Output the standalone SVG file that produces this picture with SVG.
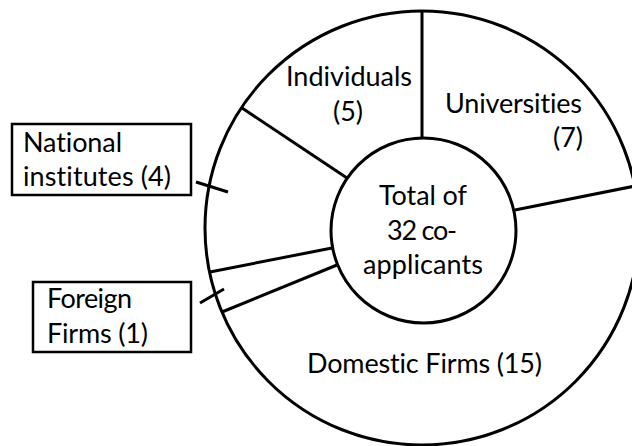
<svg xmlns="http://www.w3.org/2000/svg" width="632" height="446" viewBox="0 0 632 446">
<style>
.ln{stroke:#000;stroke-width:3;fill:none}
.box{stroke:#000;stroke-width:2.5;fill:#fff}
text{font-family:Lato,"Open Sans","Liberation Sans",sans-serif;font-size:27px;fill:#000;font-variant-ligatures:none}
.m{text-anchor:middle}
</style>
<rect width="632" height="446" fill="#fff"/>
<g id="ring">
<circle class="ln" cx="422" cy="228" r="217"/>
</g>
<g id="dividers">
<line class="ln" x1="422" y1="11" x2="422" y2="138"/>
<line class="ln" x1="515" y1="210" x2="640" y2="185"/>
<line class="ln" x1="242" y1="108" x2="347" y2="178"/>
<line class="ln" x1="210" y1="272" x2="332" y2="248"/>
<line class="ln" x1="222" y1="312" x2="337" y2="265"/>
</g>
<g id="center">
<circle class="ln" cx="423.5" cy="230.5" r="92.5" fill="#fff"/>
<text class="m" x="423" y="205" textLength="88">Total of</text>
<text class="m" x="422" y="240" textLength="70">32 co-</text>
<text class="m" x="423" y="274" textLength="120">applicants</text>
</g>
<g id="individuals">
<text class="m" x="349" y="86" textLength="126">Individuals</text>
<text class="m" x="348" y="121" textLength="30">(5)</text>
</g>
<g id="universities">
<text class="m" x="513.5" y="113" textLength="137">Universities</text>
<text x="583" y="147" text-anchor="end" textLength="30">(7)</text>
</g>
<g id="domestic-firms">
<text class="m" x="424.5" y="373" textLength="235">Domestic Firms (15)</text>
</g>
<g id="national-institutes">
<rect class="box" x="12" y="124" width="179" height="71"/>
<text x="23" y="152" textLength="99">National</text>
<text x="23" y="186" textLength="148">institutes (4)</text>
</g>
<g id="foreign-firms">
<rect class="box" x="33" y="282" width="158" height="70"/>
<text x="47" y="308" textLength="85">Foreign</text>
<text x="47" y="343" textLength="101">Firms (1)</text>
</g>
<g id="connectors">
<line class="ln" x1="196" y1="182" x2="228" y2="192"/>
<line class="ln" x1="200" y1="303" x2="224" y2="289"/>
</g>
</svg>
